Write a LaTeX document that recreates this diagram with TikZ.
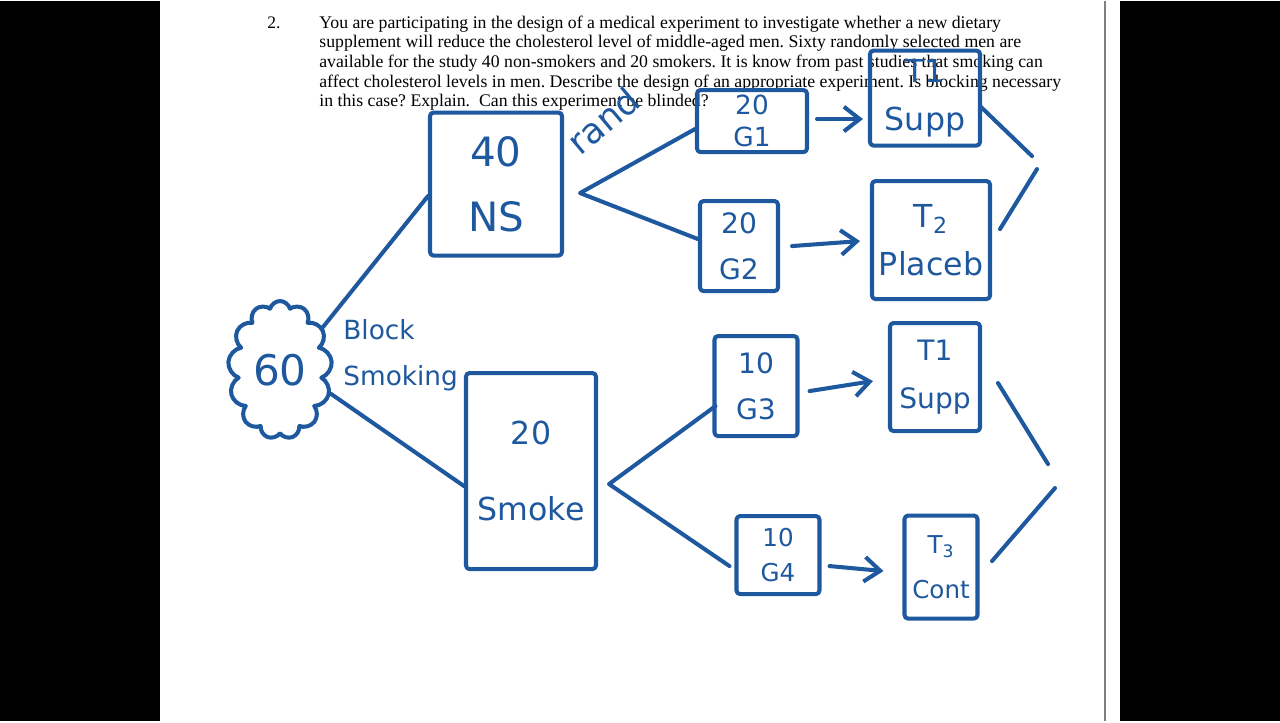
\documentclass[tikz,border=0pt]{standalone}
\usepackage{fontspec}
\setmainfont{Liberation Serif}
\newfontfamily\handfont{DejaVu Sans}
\usetikzlibrary{shapes.symbols,calc,arrows.meta}
\definecolor{inkblue}{RGB}{30,88,158}
\frenchspacing

\begin{document}
\begin{tikzpicture}[x=0.02cm, y=-0.02cm, >={Straight Barb[length=9pt,width=14pt]},
    pen/.style={draw=inkblue, line width=2.3pt, line cap=round, line join=round},
    grp/.style={pen, rounded corners=2pt, inner sep=0pt, text=inkblue, align=center},
    hand/.style={text=inkblue, inner sep=0pt},
    arr/.style={pen, ->},
    sz/.style 2 args={minimum width=#1*\u, minimum height=#2*\u}]

    % Definice jednotek a pisma
    \def\u{0.02cm}
    \def\hf#1#2{\handfont\fontsize{#1}{#2}\selectfont}

    % 0. Stranka (cerne okraje)
    \fill[black] (0,0) rectangle (1280,720);
    \fill[white] (160,0) rectangle (1120,720);
    \draw[gray, line width=1.2pt] (1105,0) -- (1105,720);
    \useasboundingbox (0,0) rectangle (1280,720);

    % 1. Zadani ulohy
    \node[anchor=base west, inner sep=0pt, font=\fontsize{10}{12}\selectfont] (num) at (267,27) {2.};
    \foreach \i/\t in {1/{You are participating in the design of a medical experiment to investigate whether a new dietary},
                       2/{supplement will reduce the cholesterol level of middle-aged men. Sixty randomly selected men are},
                       3/{available for the study 40 non-smokers and 20 smokers. It is know from past studies that smoking can},
                       4/{affect cholesterol levels in men. Describe the design of an appropriate experiment. Is blocking necessary},
                       5/{in this case? Explain.\ \ Can this experiment be blinded?}} {
        \node[anchor=base west, inner sep=0pt, font=\fontsize{10.1}{12}\selectfont] (q\i) at (319,{27+19.7*(\i-1)}) {\t};
    }

    % 2. Vsech 60 muzu a bloky
    \node[pen, cloud, cloud puffs=13, cloud ignores aspect, sz={104}{138}, text=inkblue, font=\hf{24}{28}] (cl) at (280,369) {60};
    \node[hand, anchor=north west, align=left, font=\hf{15}{26}] (blk) at (343,318) {Block\\Smoking};

    \node[grp, sz={132}{143}, font=\hf{23}{37}] (ns) at (496,183) {40\\NS};
    \node[grp, sz={130}{196}, font=\hf{18}{43}] (sm) at (531,470) {20\\Smoke};
    \node[hand, rotate=40, font=\hf{20}{24}] (rnd) at (603,120) {rand};

    % 3. Skupiny
    \node[grp, sz={110}{62}, font=\hf{15}{18}] (g1) at (752,120) {20\\G1};
    \node[grp, sz={78}{90}, font=\hf{16}{26}] (g2) at (739,245) {20\\G2};
    \node[grp, sz={83}{100}, font=\hf{16}{26}] (g3) at (756,385) {10\\G3};
    \node[grp, sz={83}{78}, font=\hf{14}{20}] (g4) at (778,554) {10\\G4};

    % 4. Lecba
    \node[grp, sz={110}{95}, font=\hf{18}{27}] (t1) at (925,97) {T1\\Supp};
    \node[grp, sz={118}{118}, font=\hf{18}{27}] (t2) at (931,239) {T\textsubscript{2}\\Placeb};
    \node[grp, sz={90}{108}, font=\hf{16}{27}] (t1b) at (935,376) {T1\\Supp};
    \node[grp, sz={73}{103}, font=\hf{14}{26}] (t3) at (941,566) {T\textsubscript{3}\\Cont};

    % 5. Spojnice
    \coordinate (fa) at ($(ns.east)+(16,9)$);
    \coordinate (fb) at ($(sm.east)+(11,13)$);
    \draw[pen] (cl.45) -- ($(ns.west)+(0,12)$);
    \draw[pen] (cl.-25) -- ($(sm.west)+(0,15)$);
    \draw[pen] ($(g1.west)+(0,8)$) -- (fa) -- ($(g2.west)+(0,-7)$);
    \draw[pen] ($(g3.west)+(3,20)$) -- (fb) -- ($(g4.west)+(-5,11)$);

    \draw[arr] ($(g1.east)+(8,-2)$) -- ($(g1.east -| t1.west)+(-5,-2)$);
    \draw[arr] ($(g2.east)+(12,0)$) -- ($(t2.west)+(-10,1)$);
    \draw[arr] ($(g3.east)+(10,5)$) -- ($(t1b.west)+(-15,4)$);
    \draw[arr] ($(g4.east)+(8,11)$) -- ($(t3.west)+(-19,4)$);

    % 6. Porovnani (zobaky vpravo)
    \coordinate (ra) at (980,105);  \coordinate (rb) at (1032,155);
    \coordinate (rc) at (1037,168); \coordinate (rd) at (1000,228);
    \coordinate (re) at (998,382);  \coordinate (rf) at (1048,463);
    \coordinate (rg) at (1055,487); \coordinate (rh) at (992,560);
    \draw[pen] (ra) -- (rb);
    \draw[pen] (rc) -- (rd);
    \draw[pen] (re) -- (rf);
    \draw[pen] (rg) -- (rh);

\end{tikzpicture}
\end{document}
